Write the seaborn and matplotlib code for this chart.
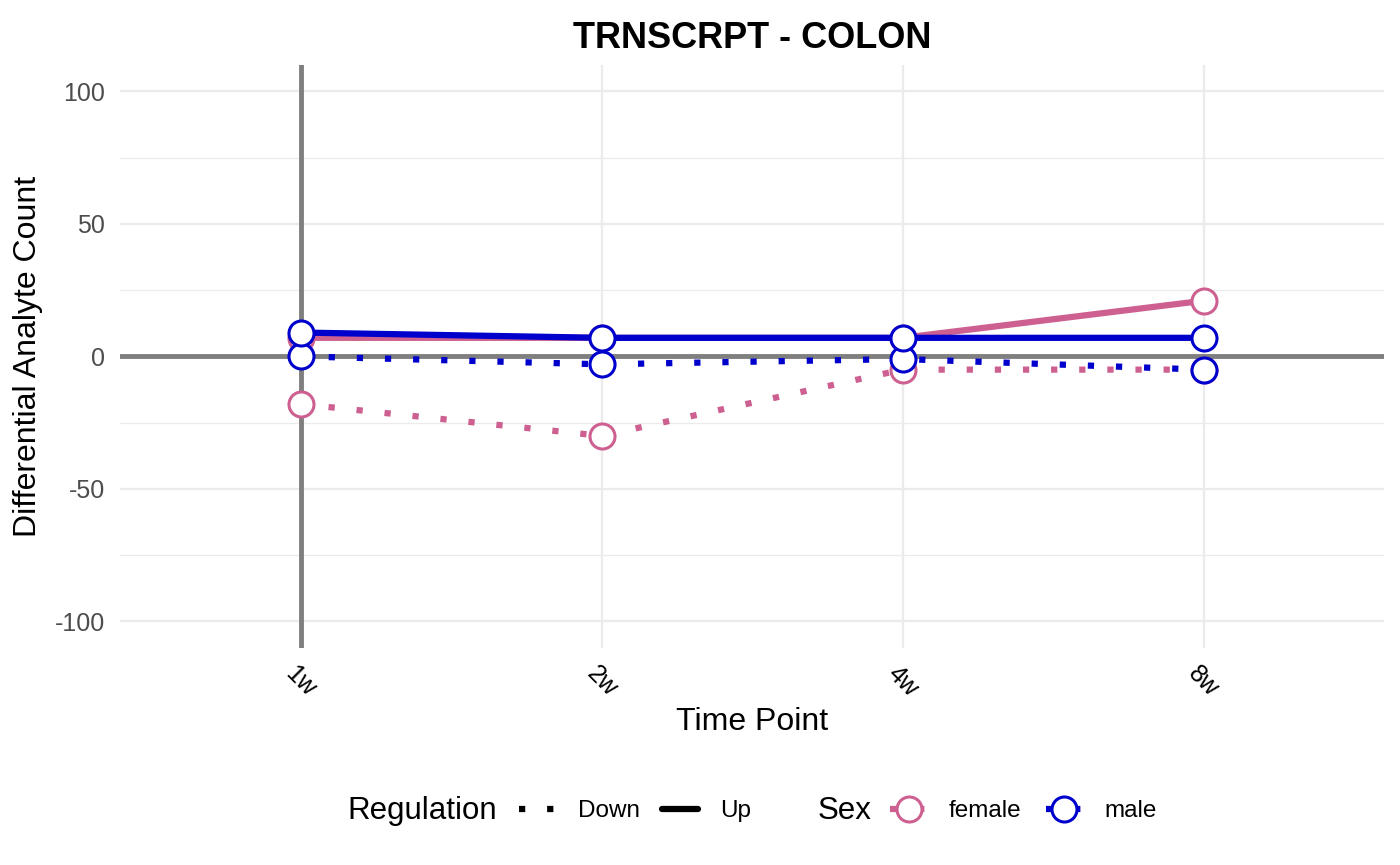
import pandas as pd
import matplotlib
matplotlib.use("Agg")
import matplotlib.pyplot as plt
import seaborn as sns
from matplotlib.lines import Line2D

# Data
time_points = ["1w", "2w", "4w", "8w"]
female_up = [7, 7, 7, 21]
female_down = [-18, -30, -5, -5]
male_up = [9, 7, 7, 7]
male_down = [0, -3, -1, -5]

colors = {"female": "#CD6090", "male": "#0000CD"}

rows = []
for sex, reg, vals in [("female", "Down", female_down), ("female", "Up", female_up),
                       ("male", "Down", male_down), ("male", "Up", male_up)]:
    for t, v in zip(time_points, vals):
        rows.append({"time": t, "count": v, "Sex": sex, "Regulation": reg})
df = pd.DataFrame(rows)

sns.set_theme(style="whitegrid")
plt.rcParams["font.family"] = ["Liberation Sans", "DejaVu Sans"]
plt.rcParams["axes.unicode_minus"] = False
plt.rcParams["text.color"] = "black"
plt.rcParams["axes.labelcolor"] = "black"

fig = plt.figure(figsize=(14, 8.65), dpi=100)
ax = fig.add_axes([0.0857, 0.251, 0.903, 0.674])

# reference lines
ax.axhline(0, color="#7F7F7F", lw=3.5, zorder=1)
ax.axvline(0, color="#7F7F7F", lw=3.5, zorder=1)

sns.lineplot(
    data=df, x="time", y="count", hue="Sex", style="Regulation",
    hue_order=["female", "male"], style_order=["Down", "Up"],
    palette=colors, dashes={"Up": "", "Down": (1, 3.5)},
    markers={"Up": "o", "Down": "o"}, markersize=18,
    markerfacecolor="white", markeredgewidth=2.2, lw=4.5,
    legend=False, ax=ax, zorder=3,
)
# marker outlines in the line colour
for line in ax.lines[2:]:
    line.set_markeredgecolor(line.get_color())

ax.set_xlim(-0.6, 3.6)
ax.set_ylim(-110, 110)
ax.set_yticks([-100, -50, 0, 50, 100])
ax.set_yticks([-75, -25, 25, 75], minor=True)
ax.grid(which="major", color="#EBEBEB", lw=1.6)
ax.grid(which="minor", axis="y", color="#EBEBEB", lw=0.9)
ax.set_facecolor("white")
for s in ax.spines.values():
    s.set_visible(False)

ax.tick_params(axis="y", labelsize=18, colors="#4D4D4D", length=0, pad=11)
ax.tick_params(axis="x", labelsize=18, colors="black", length=0, pad=10)
for lab in ax.get_xticklabels():
    lab.set_rotation(-45)
    lab.set_ha("center")
    lab.set_va("top")

ax.set_xlabel("Time Point", fontsize=23, labelpad=4)
ax.set_ylabel("Differential Analyte Count", fontsize=23, labelpad=8)
ax.set_title("TRNSCRPT - COLON", fontsize=26, fontweight="bold", pad=12)

# Legends at the bottom
reg_handles = [
    Line2D([], [], color="black", lw=4.5, dashes=(1, 3.5)),
    Line2D([], [], color="black", lw=4.5),
]
sex_handles = [
    Line2D([], [], color=colors["female"], lw=4.5, dashes=(1, 3.5), marker="o",
           markersize=18, mfc="white", mew=2.2),
    Line2D([], [], color=colors["male"], lw=4.5, dashes=(1, 3.5), marker="o",
           markersize=18, mfc="white", mew=2.2),
]
fig.text(0.248, 0.062, "Regulation", fontsize=22.5, va="center", ha="left")
fig.legend(reg_handles, ["Down", "Up"], loc="center left", bbox_to_anchor=(0.371, 0.062),
           ncol=2, frameon=False, fontsize=17.5, handlelength=1.5, columnspacing=0.9,
           handletextpad=0.9, borderaxespad=0, borderpad=0)
fig.text(0.584, 0.062, "Sex", fontsize=22.5, va="center", ha="left")
fig.legend(sex_handles, ["female", "male"], loc="center left", bbox_to_anchor=(0.636, 0.062),
           ncol=2, frameon=False, fontsize=17.5, handlelength=1.5, columnspacing=1.0,
           handletextpad=0.9, borderaxespad=0, borderpad=0)

fig.savefig("out.png", dpi=100)
